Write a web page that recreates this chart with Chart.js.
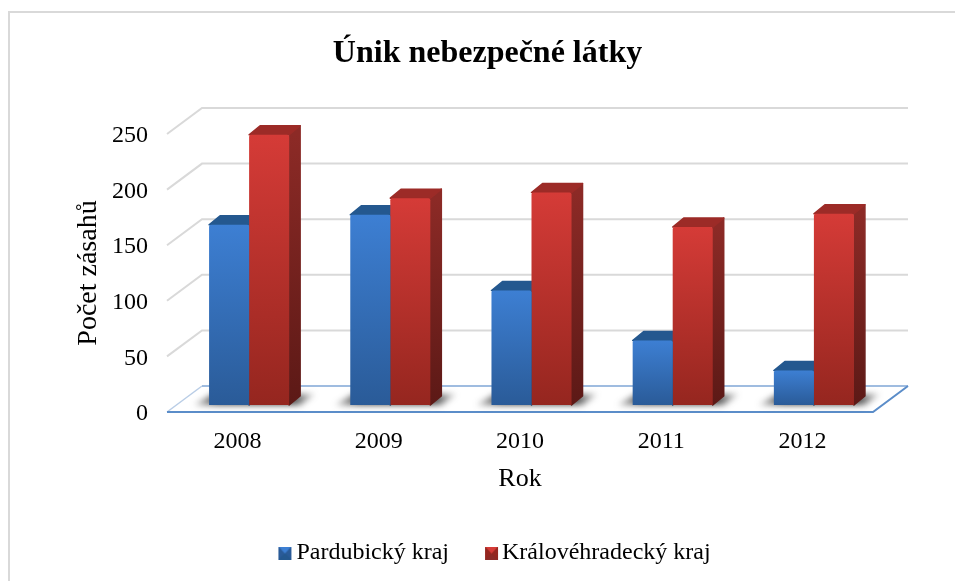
<!DOCTYPE html>
<html><head><meta charset="utf-8">
<style>html,body{margin:0;padding:0;background:#fff}canvas{display:block}</style>
<script src="https://cdn.jsdelivr.net/npm/chart.js@4"></script></head>
<body><canvas id="c" width="955" height="581"></canvas>
<script>
const categories = ['2008','2009','2010','2011','2012'];
const pardubicky = [162,171,103,58,31];
const kralovehradecky = [243,186,191,160,172];
const FONT = '"Liberation Serif","Times New Roman",serif';
const DEPTH = {dx:35, dy:26};      // full floor depth
const BAR_OFFSET = {dx:11.5, dy:-7}; // bars stand inside the floor
const BAR_DEPTH = {dx:11, dy:9};
const PAL = [
 {light:'#3d7fd3', dark:'#2a5b98', top:'#24588f', sideA:'#24588f', sideB:'#1b3f6b'},
 {light:'#d53b37', dark:'#95261f', top:'#9c2b27', sideA:'#8c2a26', sideB:'#5c1916'}
];
function swatch(p,off){
  const c=document.createElement('canvas');c.width=50;c.height=13;const g=c.getContext('2d');
  g.translate(off,0);
  const tri=(col,pts)=>{g.fillStyle=col;g.beginPath();pts.forEach((q,i)=>i?g.lineTo(q[0],q[1]):g.moveTo(q[0],q[1]));g.closePath();g.fill();};
  tri(p.dark,[[0,0],[13,0],[13,13],[0,13]]);
  tri(p.light,[[0,0],[13,0],[6.5,7]]);
  tri(p.sideA,[[0,13],[13,13],[6.5,7]]);
  return c;
}
function grad(ctx,y0,y1,a,b){const g=ctx.createLinearGradient(0,y0,0,y1);g.addColorStop(0,a);g.addColorStop(1,b);return g;}
function front(i){return ctx=>{
  const chart=ctx.chart,p=PAL[i];
  if(ctx.type!=='data'||!chart.chartArea) return p.dark;
  const y=chart.scales.y;
  return grad(chart.ctx,y.getPixelForValue(ctx.parsed.y),y.getPixelForValue(0),p.light,p.dark);
};}
const depthPlugin={
 id:'depth',
 beforeDraw(chart){
  const c=chart.ctx;c.save();c.fillStyle='#fff';c.fillRect(0,0,chart.width,chart.height);
  c.strokeStyle='#d9d9d9';c.lineWidth=2;
  c.beginPath();c.moveTo(chart.width,12);c.lineTo(9,12);c.lineTo(9,chart.height);c.stroke();c.restore();
 },
 beforeDatasetsDraw(chart){
  const c=chart.ctx,y=chart.scales.y,a=chart.chartArea;
  c.save();
  c.strokeStyle='#d9d9d9';c.lineWidth=2;
  y.ticks.forEach(t=>{ if(t.value===0) return;
    const py=y.getPixelForValue(t.value);
    c.beginPath();c.moveTo(a.left,py);c.lineTo(a.left+DEPTH.dx,py-DEPTH.dy);c.lineTo(a.right+DEPTH.dx,py-DEPTH.dy);c.stroke();
  });
  const f=y.getPixelForValue(0);
  c.strokeStyle='#b9cde6';c.lineWidth=1.5;
  c.beginPath();c.moveTo(a.left,f);c.lineTo(a.left+DEPTH.dx,f-DEPTH.dy);c.stroke();
  c.strokeStyle='#7fa6d6';
  c.beginPath();c.moveTo(a.left+DEPTH.dx,f-DEPTH.dy);c.lineTo(a.right+DEPTH.dx,f-DEPTH.dy);c.stroke();
  c.strokeStyle='#5b8dc9';c.lineWidth=2;
  c.beginPath();c.moveTo(a.right+DEPTH.dx,f-DEPTH.dy);c.lineTo(a.right,f);c.lineTo(a.left,f);c.stroke();
  c.restore();

  c.save();
  c.translate(BAR_OFFSET.dx,BAR_OFFSET.dy);
  const m0=chart.getDatasetMeta(0).data,m1=chart.getDatasetMeta(1).data;
  c.save();c.filter='blur(3px)';
  m0.forEach((b,i)=>{
    const l=b.x-b.width/2,r=m1[i].x+m1[i].width/2,base=b.base;
    const g=c.createLinearGradient(l-16,0,r+28,0);
    g.addColorStop(0,'rgba(60,60,60,0.3)');g.addColorStop(0.2,'rgba(40,40,40,0.85)');
    g.addColorStop(0.8,'rgba(40,40,40,0.85)');g.addColorStop(1,'rgba(60,60,60,0.15)');
    c.fillStyle=g;
    c.beginPath();c.moveTo(l-15,base);c.lineTo(l+4,base-11);c.lineTo(r+26,base-11);c.lineTo(r+11,base);c.closePath();c.fill();
  });
  c.restore();
  [m0,m1].forEach((els,k)=>{
    const p=PAL[k];
    els.forEach(b=>{
      const l=b.x-b.width/2,r=b.x+b.width/2,t=b.y,base=b.base,dx=BAR_DEPTH.dx,dy=BAR_DEPTH.dy;
      c.lineJoin='round';c.lineWidth=1.5;
      const sg=grad(c,t,base,p.sideA,p.sideB);
      c.fillStyle=sg;c.strokeStyle=sg;
      c.beginPath();c.moveTo(r,t);c.lineTo(r+dx,t-dy);c.lineTo(r+dx,base-dy);c.lineTo(r,base);c.closePath();c.fill();c.stroke();
      c.fillStyle=p.top;c.strokeStyle=p.top;
      c.beginPath();c.moveTo(l,t);c.lineTo(l+dx,t-dy);c.lineTo(r+dx,t-dy);c.lineTo(r,t);c.closePath();c.fill();c.stroke();
    });
  });
 },
 afterDatasetsDraw(chart){ chart.ctx.restore(); }
};
new Chart(document.getElementById('c'),{
 type:'bar',
 data:{labels:categories,datasets:[
  {label:'Pardubický kraj',data:pardubicky,backgroundColor:front(0),borderWidth:0,borderRadius:2,clip:false},
  {label:'Královéhradecký kraj',data:kralovehradecky,backgroundColor:front(1),borderWidth:0,borderRadius:2,clip:false}
 ]},
 plugins:[depthPlugin],
 options:{
  responsive:false,animation:false,
  layout:{padding:{left:102,right:82,top:10,bottom:6}},
  datasets:{bar:{categoryPercentage:0.567,barPercentage:1}},
  plugins:{
   tooltip:{enabled:false},
   title:{display:true,text:'Únik nebezpečné látky',color:'#000',
     font:{family:FONT,size:32,weight:'bold'},padding:{top:25,bottom:60.6}},
   legend:{position:'bottom',
     labels:{color:'#000',font:{family:FONT,size:24},padding:21,usePointStyle:true,boxWidth:20,boxHeight:13,
       generateLabels(chart){
         return Chart.defaults.plugins.legend.labels.generateLabels(chart).map((it,i)=>Object.assign(it,{pointStyle:swatch(PAL[i],i?30:29)}));
       }}}
  },
  scales:{
   x:{grid:{display:false,drawTicks:false},border:{display:false},
      afterFit(s){s.height=108;},
      ticks:{color:'#000',font:{family:FONT,size:24},padding:15,maxRotation:0},
      title:{display:true,text:'Rok',color:'#000',font:{family:FONT,size:26},padding:{top:0,bottom:25.4}}},
   y:{min:0,max:250,grid:{display:false,drawTicks:false},border:{display:false},
      afterFit(s){s.width=65;},
      ticks:{stepSize:50,color:'#000',font:{family:FONT,size:24},padding:19,labelOffset:2},
      title:{display:true,text:'Počet zásahů',color:'#000',font:{family:FONT,size:28},padding:{top:-30,bottom:0}}}
  }
 }
});
</script></body></html>
